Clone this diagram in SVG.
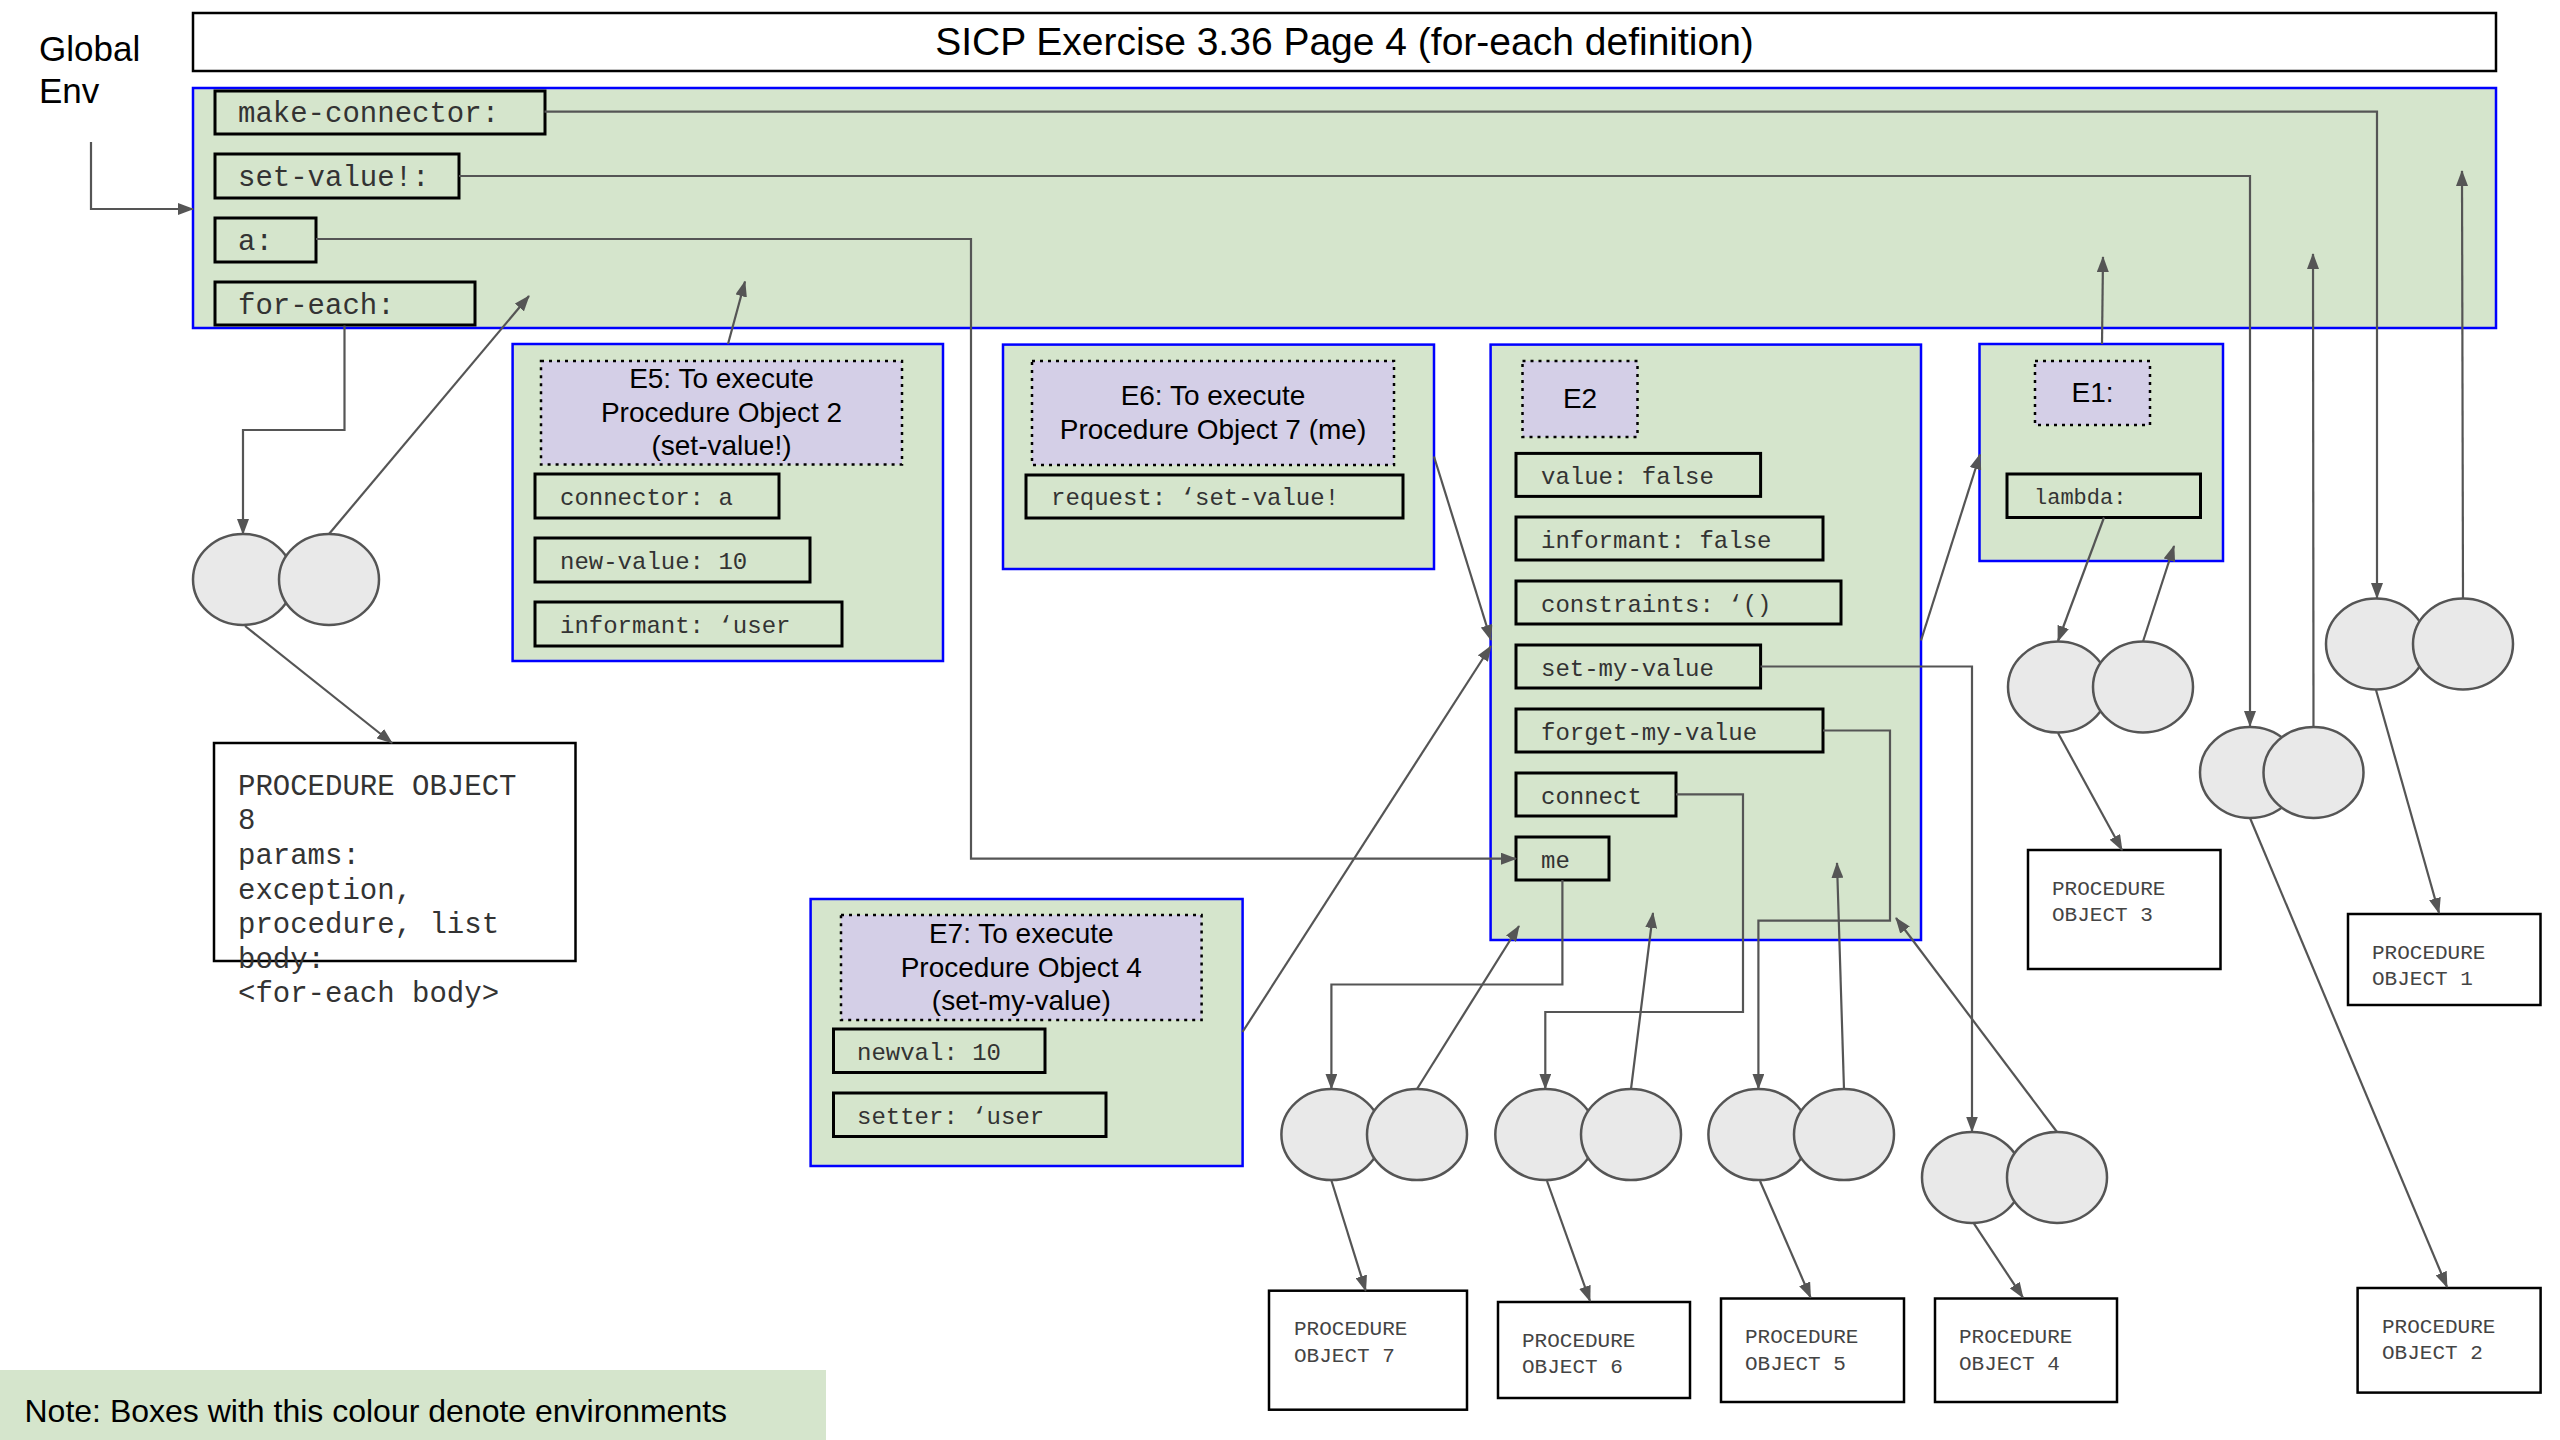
<svg xmlns="http://www.w3.org/2000/svg" width="2560" height="1440" viewBox="0 0 2560 1440">
<style>
.sans{font-family:"Liberation Sans",Arial,sans-serif;fill:#000}
.mono{font-family:"Liberation Mono","Courier New",monospace;fill:#333}
.env{fill:#d5e5cc;stroke:#0000ff;stroke-width:2.5}
.lbl{fill:#d4cfe7;stroke:#000;stroke-width:2.5;stroke-dasharray:3 5}
.fld{fill:none;stroke:#000;stroke-width:3}
.po{fill:#fff;stroke:#000;stroke-width:2.5}
.ell{fill:#e9e9e9;stroke:#555;stroke-width:2.5}
.f29{font-size:29px}
.f24{font-size:24px}
.f21{font-size:21px;fill:#444}
.f28{font-size:28px}
.con{fill:none;stroke:#555;stroke-width:2.2;marker-end:url(#ah)}
</style>
<defs>
<marker id="ah" markerUnits="userSpaceOnUse" markerWidth="16" markerHeight="12" viewBox="0 0 16 12" refX="15" refY="6" orient="auto">
<path d="M0,0 L16,6 L0,12 z" fill="#555"/>
</marker>
</defs>
<rect width="2560" height="1440" fill="#fff"/>

<g id="title">
<rect x="193" y="13" width="2303" height="58" fill="#fff" stroke="#000" stroke-width="2.5"/>
<text class="sans" x="1344.5" y="55" font-size="39" text-anchor="middle">SICP Exercise 3.36 Page 4 (for-each definition)</text>
</g>
<g id="global-label">
<text class="sans" x="39" y="61" font-size="35">Global</text>
<text class="sans" x="39" y="103" font-size="35">Env</text>
</g>

<g id="global-env">
<rect class="env" x="193" y="88" width="2303" height="240"/>
<rect class="fld" x="215" y="91" width="330" height="43"/>
<text class="mono f29" x="238" y="122">make-connector:</text>
<rect class="fld" x="215" y="154" width="244" height="44"/>
<text class="mono f29" x="238" y="186">set-value!:</text>
<rect class="fld" x="215" y="218" width="101" height="44"/>
<text class="mono f29" x="238" y="250">a:</text>
<rect class="fld" x="215" y="282" width="260" height="43"/>
<text class="mono f29" x="238" y="314">for-each:</text>
</g>

<g id="E5">
<rect class="env" x="512.6" y="344" width="430.4" height="317"/>
<rect class="lbl" x="541" y="361" width="361" height="103.6"/>
<text class="sans f28" x="721.5" y="388" text-anchor="middle">E5: To execute</text>
<text class="sans f28" x="721.5" y="422" text-anchor="middle">Procedure Object 2</text>
<text class="sans f28" x="721.5" y="455" text-anchor="middle">(set-value!)</text>
<rect class="fld" x="535" y="474" width="244" height="44"/>
<text class="mono f24" x="560" y="505">connector: a</text>
<rect class="fld" x="535" y="538" width="275" height="44"/>
<text class="mono f24" x="560" y="569">new-value: 10</text>
<rect class="fld" x="535" y="602" width="307" height="44"/>
<text class="mono f24" x="560" y="633">informant: ‘user</text>
</g>

<g id="E6">
<rect class="env" x="1003" y="344.6" width="431" height="224.4"/>
<rect class="lbl" x="1032" y="361" width="362" height="104"/>
<text class="sans f28" x="1213" y="405" text-anchor="middle">E6: To execute</text>
<text class="sans f28" x="1213" y="439" text-anchor="middle">Procedure Object 7 (me)</text>
<rect class="fld" x="1026" y="475" width="377" height="43"/>
<text class="mono f24" x="1051" y="505">request: ‘set-value!</text>
</g>

<g id="E2">
<rect class="env" x="1490.6" y="344.6" width="430.4" height="595.4"/>
<rect class="lbl" x="1522.5" y="361" width="115" height="76"/>
<text class="sans f28" x="1580" y="408" text-anchor="middle">E2</text>
<rect class="fld" x="1516" y="453.4" width="244.6" height="43"/>
<text class="mono f24" x="1541" y="484">value: false</text>
<rect class="fld" x="1516" y="517" width="307" height="43"/>
<text class="mono f24" x="1541" y="548">informant: false</text>
<rect class="fld" x="1516" y="581" width="325" height="43"/>
<text class="mono f24" x="1541" y="612">constraints: ‘()</text>
<rect class="fld" x="1516" y="645" width="244.6" height="43"/>
<text class="mono f24" x="1541" y="676">set-my-value</text>
<rect class="fld" x="1516" y="709" width="307" height="43"/>
<text class="mono f24" x="1541" y="740">forget-my-value</text>
<rect class="fld" x="1516" y="773" width="160" height="43"/>
<text class="mono f24" x="1541" y="804">connect</text>
<rect class="fld" x="1516" y="837" width="93" height="43"/>
<text class="mono f24" x="1541" y="868">me</text>
</g>

<g id="E1">
<rect class="env" x="1979.5" y="344" width="243.5" height="217"/>
<rect class="lbl" x="2035" y="361" width="115" height="64"/>
<text class="sans f28" x="2092.5" y="402" text-anchor="middle">E1:</text>
<rect class="fld" x="2007" y="474" width="193.5" height="43.5"/>
<text class="mono" x="2034" y="504" font-size="22">lambda:</text>
</g>

<g id="E7">
<rect class="env" x="810.6" y="899" width="432" height="267"/>
<rect class="lbl" x="841" y="915" width="360.6" height="105"/>
<text class="sans f28" x="1021.3" y="943" text-anchor="middle">E7: To execute</text>
<text class="sans f28" x="1021.3" y="977" text-anchor="middle">Procedure Object 4</text>
<text class="sans f28" x="1021.3" y="1010" text-anchor="middle">(set-my-value)</text>
<rect class="fld" x="833.5" y="1029" width="211.5" height="43.5"/>
<text class="mono f24" x="857" y="1060">newval: 10</text>
<rect class="fld" x="833.5" y="1093" width="272.5" height="43.5"/>
<text class="mono f24" x="857" y="1124">setter: ‘user</text>
</g>

<g id="PO8">
<rect class="po" x="214" y="743" width="361.5" height="218"/>
<text class="mono f29" x="238" y="795">PROCEDURE OBJECT</text>
<text class="mono f29" x="238" y="829">8</text>
<text class="mono f29" x="238" y="864">params:</text>
<text class="mono f29" x="238" y="899">exception,</text>
<text class="mono f29" x="238" y="933">procedure, list</text>
<text class="mono f29" x="238" y="968">body:</text>
<text class="mono f29" x="238" y="1002">&lt;for-each body&gt;</text>
</g>

<g id="PO7">
<rect class="po" x="1269" y="1290.7" width="198" height="119"/>
<text class="mono f21" x="1294" y="1335">PROCEDURE</text>
<text class="mono f21" x="1294" y="1361.5">OBJECT 7</text>
</g>
<g id="PO6">
<rect class="po" x="1498" y="1302" width="192" height="96"/>
<text class="mono f21" x="1522" y="1347">PROCEDURE</text>
<text class="mono f21" x="1522" y="1373">OBJECT 6</text>
</g>
<g id="PO5">
<rect class="po" x="1721" y="1298.5" width="183" height="103.5"/>
<text class="mono f21" x="1745" y="1343">PROCEDURE</text>
<text class="mono f21" x="1745" y="1370">OBJECT 5</text>
</g>
<g id="PO4">
<rect class="po" x="1935" y="1298.5" width="182" height="103.5"/>
<text class="mono f21" x="1959" y="1343">PROCEDURE</text>
<text class="mono f21" x="1959" y="1370">OBJECT 4</text>
</g>
<g id="PO3">
<rect class="po" x="2028" y="850" width="192.5" height="119"/>
<text class="mono f21" x="2052" y="894.5">PROCEDURE</text>
<text class="mono f21" x="2052" y="921">OBJECT 3</text>
</g>
<g id="PO1">
<rect class="po" x="2348" y="914" width="192.5" height="91"/>
<text class="mono f21" x="2372" y="958.7">PROCEDURE</text>
<text class="mono f21" x="2372" y="985.4">OBJECT 1</text>
</g>
<g id="PO2">
<rect class="po" x="2357.6" y="1288" width="183" height="104.6"/>
<text class="mono f21" x="2382" y="1333">PROCEDURE</text>
<text class="mono f21" x="2382" y="1359">OBJECT 2</text>
</g>

<g id="pair-PO8">
<ellipse class="ell" cx="243" cy="579.5" rx="50" ry="45.5"/>
<ellipse class="ell" cx="329" cy="579.5" rx="50" ry="45.5"/>
</g>
<g id="pair-PO3">
<ellipse class="ell" cx="2058" cy="687" rx="50" ry="45.5"/>
<ellipse class="ell" cx="2143" cy="687" rx="50" ry="45.5"/>
</g>
<g id="pair-PO1">
<ellipse class="ell" cx="2376" cy="644" rx="50" ry="45.5"/>
<ellipse class="ell" cx="2463" cy="644" rx="50" ry="45.5"/>
</g>
<g id="pair-PO2">
<ellipse class="ell" cx="2250" cy="772.5" rx="50" ry="45.5"/>
<ellipse class="ell" cx="2313.5" cy="772.5" rx="50" ry="45.5"/>
</g>
<g id="pair-PO7">
<ellipse class="ell" cx="1331.4" cy="1134.6" rx="50" ry="45.5"/>
<ellipse class="ell" cx="1417" cy="1134.6" rx="50" ry="45.5"/>
</g>
<g id="pair-PO6">
<ellipse class="ell" cx="1545.3" cy="1134.6" rx="50" ry="45.5"/>
<ellipse class="ell" cx="1631" cy="1134.6" rx="50" ry="45.5"/>
</g>
<g id="pair-PO5">
<ellipse class="ell" cx="1758.4" cy="1134.6" rx="50" ry="45.5"/>
<ellipse class="ell" cx="1844" cy="1134.6" rx="50" ry="45.5"/>
</g>
<g id="pair-PO4">
<ellipse class="ell" cx="1972" cy="1177.4" rx="50" ry="45.5"/>
<ellipse class="ell" cx="2057" cy="1177.4" rx="50" ry="45.5"/>
</g>

<g id="note">
<rect x="0" y="1370" width="826" height="70" fill="#d5e5cc"/>
<text class="sans" x="24.5" y="1422" font-size="32">Note: Boxes with this colour denote environments</text>
</g>

<g id="connectors">
<polyline class="con" points="91,142 91,209 193,209"/>
<polyline class="con" points="544.5,111.6 2377,111.6 2377,598"/>
<polyline class="con" points="459,176 2250,176 2250,726"/>
<polyline class="con" points="316,239 971,239 971,858.7 1516,858.7"/>
<polyline class="con" points="344.5,325.5 344.5,430 243,430 243,534"/>
<line class="con" x1="329" y1="534" x2="529" y2="296"/>
<line class="con" x1="245" y1="626" x2="392" y2="743"/>
<line class="con" x1="728" y1="344" x2="745" y2="281.5"/>
<line class="con" x1="1434" y1="456.5" x2="1491" y2="640"/>
<line class="con" x1="1242.5" y1="1032" x2="1491" y2="646"/>
<line class="con" x1="1921" y1="640.5" x2="1980" y2="454.5"/>
<line class="con" x1="2102" y1="344" x2="2103" y2="257"/>
<line class="con" x1="2104" y1="517.5" x2="2058" y2="641"/>
<line class="con" x1="2143" y1="641.5" x2="2174" y2="546"/>
<line class="con" x1="2058" y1="733" x2="2122" y2="850"/>
<line class="con" x1="2313.5" y1="727" x2="2313" y2="254"/>
<line class="con" x1="2250" y1="818" x2="2447" y2="1287"/>
<line class="con" x1="2463" y1="598.5" x2="2462" y2="171"/>
<line class="con" x1="2376" y1="690" x2="2439" y2="913"/>
<polyline class="con" points="1562.4,880 1562.4,984.5 1331.4,984.5 1331.4,1088.7"/>
<polyline class="con" points="1676,794.4 1743,794.4 1743,1012 1545.3,1012 1545.3,1088.7"/>
<polyline class="con" points="1823,730.5 1890,730.5 1890,920.6 1758.4,920.6 1758.4,1088.7"/>
<polyline class="con" points="1760.6,666.5 1972,666.5 1972,1131.5"/>
<line class="con" x1="1417" y1="1089" x2="1519" y2="926"/>
<line class="con" x1="1631" y1="1089" x2="1653" y2="913"/>
<line class="con" x1="1844" y1="1089" x2="1837" y2="863"/>
<line class="con" x1="2057" y1="1132" x2="1896" y2="918"/>
<line class="con" x1="1331.4" y1="1180.5" x2="1365.7" y2="1290.7"/>
<line class="con" x1="1547" y1="1181" x2="1590" y2="1301"/>
<line class="con" x1="1760" y1="1181" x2="1810.6" y2="1297.6"/>
<line class="con" x1="1974" y1="1223.7" x2="2023" y2="1297.6"/>
</g>
</svg>
